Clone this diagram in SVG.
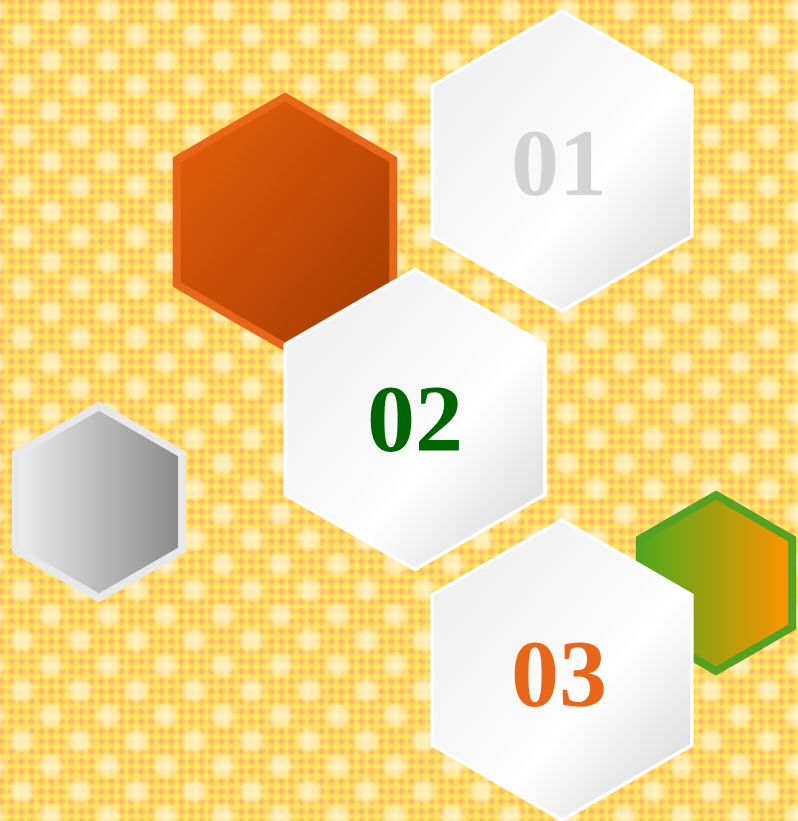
<svg xmlns="http://www.w3.org/2000/svg" width="798" height="821" viewBox="0 0 798 821">
<defs>
<pattern id="plaid" patternUnits="userSpaceOnUse" width="10" height="10">
<rect width="10" height="10" fill="#ffd766"/>
<rect x="0" y="0" width="3" height="10" fill="#f6b25e" opacity="0.5"/>
<rect x="0" y="0" width="10" height="3" fill="#f6b25e" opacity="0.5"/>
<rect x="5" y="0" width="3" height="10" fill="#fff055" opacity="0.6"/>
<rect x="0" y="5" width="10" height="3" fill="#fff055" opacity="0.6"/>
</pattern>
<radialGradient id="dotg">
<stop offset="0" stop-color="#fffbe0" stop-opacity="0.8"/>
<stop offset="0.6" stop-color="#fff8d4" stop-opacity="0.6"/>
<stop offset="1" stop-color="#fff8d4" stop-opacity="0"/>
</radialGradient>
<pattern id="dots" patternUnits="userSpaceOnUse" x="-6.8" y="-40.4" width="57.4" height="50.4">
<circle cx="57.4" cy="50.4" r="14" fill="url(#dotg)"/>
<circle cx="0" cy="50.4" r="14" fill="url(#dotg)"/>
<circle cx="57.4" cy="0" r="14" fill="url(#dotg)"/>
<circle cx="0" cy="0" r="14" fill="url(#dotg)"/>
<circle cx="28.7" cy="25.2" r="14" fill="url(#dotg)"/>
</pattern>
<linearGradient id="whiteG" x1="0" y1="0" x2="1" y2="1">
<stop offset="0" stop-color="#ececec"/>
<stop offset="0.5" stop-color="#fafafa"/>
<stop offset="0.6" stop-color="#ffffff"/>
<stop offset="1" stop-color="#d2d2d2"/>
</linearGradient>
<linearGradient id="orangeG" x1="0" y1="0" x2="1" y2="1">
<stop offset="0" stop-color="#ea600a"/>
<stop offset="1" stop-color="#a03a00"/>
</linearGradient>
<linearGradient id="grayG" x1="0" y1="0" x2="1" y2="0">
<stop offset="0" stop-color="#eeeeee"/>
<stop offset="1" stop-color="#888888"/>
</linearGradient>
<linearGradient id="greenG" x1="0" y1="0" x2="1" y2="0">
<stop offset="0" stop-color="#50a81c"/>
<stop offset="1" stop-color="#ff9400"/>
</linearGradient>
</defs>
<style>
.white { fill: url(#whiteG); stroke: #ffffff; stroke-width: 3.5; stroke-linejoin: miter; }
.num { font-family: "Liberation Serif", "DejaVu Serif", serif; font-weight: bold; font-size: 96px; text-anchor: middle; }
</style>
<g id="background">
<rect width="798" height="821" fill="url(#plaid)"/>
<rect width="798" height="821" fill="url(#dots)"/>
</g>
<g id="connectors"/>
<g id="hex-orange">
<polygon points="285,97 393.25,159.5 393.25,284.5 285,347 176.75,284.5 176.75,159.5" fill="url(#orangeG)" stroke="#e8661a" stroke-width="8"/>
</g>
<g id="hex-gray">
<polygon points="99,406 182.1,454 182.1,550 99,598 15.9,550 15.9,454" fill="url(#grayG)" stroke="#e8e8e8" stroke-width="8"/>
</g>
<g id="hex-green">
<polygon points="716,495 792.2,539 792.2,627 716,671 639.8,627 639.8,539" fill="url(#greenG)" stroke="#55a222" stroke-width="8"/>
</g>
<g id="hex-01">
<polygon class="white" points="562,11 691.9,86 691.9,236 562,311 432.1,236 432.1,86"/>
<text class="num" x="559" y="195" fill="#d3d3d3">01</text>
</g>
<g id="hex-02">
<polygon class="white" points="415,269.5 544.9,344.5 544.9,494.5 415,569.5 285.1,494.5 285.1,344.5"/>
<text class="num" x="415" y="451" fill="#006400">02</text>
</g>
<g id="hex-03">
<polygon class="white" points="562,520 691.9,595 691.9,745 562,820 432.1,745 432.1,595"/>
<text class="num" x="559" y="706" fill="#e8661a">03</text>
</g>
</svg>
